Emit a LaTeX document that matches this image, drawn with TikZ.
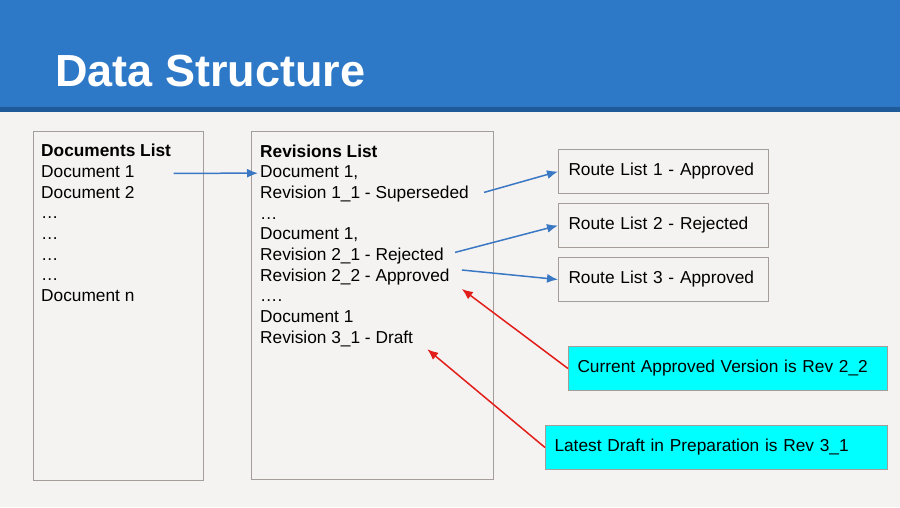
\documentclass[tikz,border=0pt]{standalone}
\usepackage{fontspec}
\setmainfont{Liberation Sans}
\usetikzlibrary{arrows.meta,positioning}
\definecolor{pagebg}{RGB}{245,243,241}
\definecolor{headblue}{RGB}{46,121,199}
\definecolor{headdark}{RGB}{31,90,153}
\definecolor{boxgray}{RGB}{165,157,153}
\definecolor{arrowblue}{RGB}{58,120,196}
\definecolor{arrowred}{RGB}{226,30,26}
\definecolor{notecyan}{RGB}{0,255,255}
\tikzset{
	txt/.style={anchor=base west, inner sep=0pt, text height=12pt, text depth=4pt,
		font=\fontsize{17.3}{20}\selectfont},
	listbox/.style={draw=boxgray, line width=1pt},
	routebox/.style={draw=boxgray, fill=pagebg, line width=1pt, anchor=north west,
		minimum height=44pt, text width=190pt, inner xsep=10pt, inner ysep=0pt, align=left,
		text height=12pt, text depth=4pt, font=\fontsize{17.3}{20}\selectfont},
	notebox/.style={routebox, fill=notecyan, inner xsep=9pt},
	bluearrow/.style={draw=arrowblue, line width=1.5pt, -{Latex[length=11pt,width=9pt]}},
	redarrow/.style={draw=arrowred, line width=1.5pt, -{Latex[length=11pt,width=9pt]}}
}
\begin{document}
\begin{tikzpicture}[x=1pt,y=-1pt]
		\useasboundingbox[fill=pagebg] (0,0) rectangle (900,507);
		% header
		\fill[headblue] (0,0) rectangle (900,107);
		\fill[headdark] (0,107) rectangle (900,112);
		\node[anchor=base west, inner sep=0pt, text=white, font=\fontsize{45}{50}\selectfont\bfseries]
			(title) at (55,86) {Data Structure};
		% lists
		\draw[listbox] (33,131) rectangle (203,480);
		\draw[listbox] (251,131) rectangle (493,479);
		\node[txt, font=\fontsize{17.3}{20}\selectfont\bfseries] (dh) at (41,156.5) {Documents List};
		\node[txt] (d1) at (41,177.3) {Document 1};
		\node[txt] (d2) at (41,198) {Document 2};
		\foreach \y [count=\i] in {218.7,239.4,260,280.8}
			\node[txt] (dd\i) at (41,\y) {…};
		\node[txt] (dn) at (41,301.5) {Document n};
		\node[txt, font=\fontsize{17.3}{20}\selectfont\bfseries] (rh) at (260,157) {Revisions List};
		\node[txt] (r1) at (260,177.7) {Document 1,};
		\node[txt] (r2) at (260,198.4) {Revision 1\_1 - Superseded};
		\node[txt] (r3) at (260,219) {…};
		\node[txt] (r4) at (260,239.7) {Document 1,};
		\node[txt] (r5) at (260,260.4) {Revision 2\_1 - Rejected};
		\node[txt] (r6) at (260,281) {Revision 2\_2 - Approved};
		\node[txt] (r7) at (260,301.8) {….};
		\node[txt] (r8) at (260,322.5) {Document 1};
		\node[txt] (r9) at (260,343.2) {Revision 3\_1 - Draft};
		% route lists
		\node[routebox] (route1) at (558,149) {Route List 1 - Approved};
		\node[routebox] (route2) at (558,203) {Route List 2 - Rejected};
		\node[routebox] (route3) at (558,257) {Route List 3 - Approved};
		% notes
		\node[notebox, text width=301pt] (approved) at (568,346) {Current Approved Version is Rev 2\_2};
		\node[notebox, text width=324pt] (draft) at (545,425) {Latest Draft in Preparation is Rev 3\_1};
		% arrows
		\draw[bluearrow] ([xshift=39pt,yshift=4pt]d1.base east) -- ([xshift=-2pt,yshift=4.5pt]r1.base west);
		\draw[bluearrow] ([xshift=15pt,yshift=6pt]r2.base east) -- (route1.west);
		\draw[bluearrow] ([xshift=11pt,yshift=8pt]r5.base east) -- (route2.west);
		\draw[bluearrow] ([xshift=12pt,yshift=11pt]r6.base east) -- (route3.west);
		\draw[redarrow] (approved.west) -- ([xshift=12pt,yshift=-8pt]r6.base east);
		\draw[redarrow] (draft.west) -- ([xshift=14pt,yshift=-6pt]r9.base east);
\end{tikzpicture}
\end{document}
